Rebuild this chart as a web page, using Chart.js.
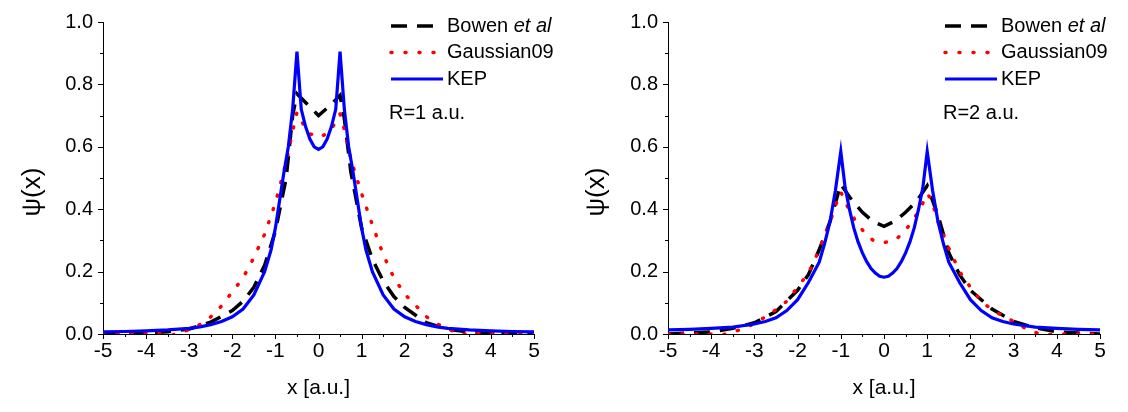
<!DOCTYPE html>
<html>
<head>
<meta charset="utf-8">
<script src="https://cdn.jsdelivr.net/npm/chart.js@4.4.0/dist/chart.umd.min.js"></script>
<style>
  html, body { margin: 0; padding: 0; background: #fff; }
  .panel { position: absolute; top: 0; width: 564px; height: 412px; }
  #left { left: 0; }
  #right { left: 564px; }
</style>
</head>
<body>
<div class="panel" id="left"><canvas id="chartR1"></canvas></div>
<div class="panel" id="right"><canvas id="chartR2"></canvas></div>
<script>
// --- R = 1 a.u. ---
const bowenX1 = [-5, -4.5, -4, -3.5, -3, -2.5, -2, -1.75, -1.5, -1.25, -1, -0.75, -0.6, -0.5, -0.25, 0, 0.25, 0.5, 0.6, 0.75, 1, 1.25, 1.5, 1.75, 2, 2.5, 3, 3.5, 4, 4.5, 5];
const bowenY1 = [0.0, 0.001, 0.003, 0.007, 0.016, 0.038, 0.075, 0.105, 0.15, 0.22, 0.33, 0.50, 0.70, 0.77, 0.735, 0.70, 0.73, 0.765, 0.69, 0.52, 0.34, 0.24, 0.17, 0.12, 0.085, 0.036, 0.015, 0.006, 0.002, 0.001, 0.0];

const gaussX1 = [-5, -4.5, -4, -3.75, -3.4, -3.25, -3, -2.75, -2.5, -2.25, -2, -1.75, -1.5, -1.25, -1, -0.75, -0.6, -0.5, -0.4, -0.25, 0, 0.25, 0.4, 0.5, 0.6, 0.75, 1, 1.25, 1.5, 1.75, 2, 2.25, 2.5, 2.75, 3, 3.3, 3.5, 4, 4.5, 5];
const gaussY1 = [0.0, 0.002, 0.004, 0.002, -0.004, 0.003, 0.014, 0.03, 0.055, 0.09, 0.135, 0.18, 0.245, 0.32, 0.42, 0.55, 0.65, 0.71, 0.685, 0.645, 0.63, 0.645, 0.68, 0.705, 0.655, 0.56, 0.45, 0.35, 0.255, 0.18, 0.128, 0.092, 0.056, 0.032, 0.018, -0.003, 0.003, 0.004, 0.002, 0.0];

const kepX1 = [-5, -4.5, -4, -3.5, -3, -2.75, -2.5, -2.25, -2, -1.75, -1.5, -1.25, -1.1, -1, -0.9, -0.8, -0.7, -0.6, -0.5, -0.4, -0.3, -0.2, -0.1, 0, 0.1, 0.2, 0.3, 0.4, 0.5, 0.6, 0.7, 0.8, 0.9, 1, 1.1, 1.25, 1.5, 1.75, 2, 2.25, 2.5, 2.75, 3, 3.5, 4, 4.5, 5];
const kepY1 = [0.007, 0.008, 0.010, 0.013, 0.018, 0.023, 0.030, 0.040, 0.055, 0.080, 0.125, 0.20, 0.27, 0.34, 0.43, 0.52, 0.60, 0.72, 0.905, 0.72, 0.665, 0.625, 0.60, 0.592, 0.60, 0.625, 0.665, 0.72, 0.905, 0.72, 0.60, 0.52, 0.43, 0.34, 0.27, 0.20, 0.125, 0.080, 0.055, 0.040, 0.030, 0.023, 0.018, 0.013, 0.010, 0.008, 0.007];

// --- R = 2 a.u. ---
const bowenX2 = [-5, -4.5, -4, -3.5, -3, -2.5, -2, -1.75, -1.5, -1.25, -1, -0.75, -0.5, -0.25, 0, 0.25, 0.5, 0.75, 1, 1.25, 1.5, 1.75, 2, 2.5, 3, 3.5, 4, 4.5, 5];
const bowenY2 = [0.0, 0.003, 0.007, 0.018, 0.036, 0.072, 0.14, 0.19, 0.27, 0.36, 0.48, 0.43, 0.39, 0.36, 0.345, 0.362, 0.39, 0.425, 0.475, 0.38, 0.26, 0.19, 0.14, 0.08, 0.04, 0.02, 0.007, 0.003, 0.0];

const gaussX2 = [-5, -4.5, -4, -3.75, -3.5, -3.25, -3, -2.75, -2.5, -2.25, -2, -1.75, -1.5, -1.25, -1.1, -1, -0.85, -0.65, -0.45, -0.25, 0, 0.25, 0.45, 0.65, 0.85, 1, 1.1, 1.25, 1.5, 1.75, 2, 2.25, 2.5, 2.75, 3, 3.25, 3.5, 3.75, 4, 4.5, 5];
const gaussY2 = [0.0, 0.0, 0.0, -0.003, 0.006, 0.018, 0.033, 0.055, 0.078, 0.105, 0.15, 0.195, 0.27, 0.36, 0.42, 0.455, 0.41, 0.36, 0.325, 0.30, 0.293, 0.30, 0.325, 0.36, 0.405, 0.45, 0.43, 0.36, 0.275, 0.20, 0.15, 0.105, 0.078, 0.058, 0.04, 0.02, 0.005, -0.003, 0.0, 0.0, 0.0];

const kepX2 = [-5, -4.5, -4, -3.5, -3, -2.75, -2.5, -2.25, -2, -1.75, -1.5, -1.375, -1.25, -1.125, -1, -0.9, -0.8, -0.7, -0.6, -0.5, -0.4, -0.3, -0.2, -0.1, 0, 0.1, 0.2, 0.3, 0.4, 0.5, 0.6, 0.7, 0.8, 0.9, 1, 1.125, 1.25, 1.375, 1.5, 1.75, 2, 2.25, 2.5, 2.75, 3, 3.5, 4, 4.5, 5];
const kepY2 = [0.013, 0.015, 0.018, 0.022, 0.032, 0.04, 0.052, 0.075, 0.11, 0.165, 0.23, 0.29, 0.36, 0.46, 0.585, 0.47, 0.40, 0.34, 0.295, 0.26, 0.232, 0.21, 0.195, 0.185, 0.182, 0.185, 0.195, 0.21, 0.232, 0.26, 0.295, 0.34, 0.40, 0.47, 0.585, 0.46, 0.36, 0.29, 0.23, 0.165, 0.11, 0.075, 0.052, 0.04, 0.032, 0.022, 0.018, 0.015, 0.013];

// axis ticks
const xTicks = [-5, -4, -3, -2, -1, 0, 1, 2, 3, 4, 5];
const yTicks = [0, 0.2, 0.4, 0.6, 0.8, 1.0];
const keyLabels = [["Bowen ", "et al"], ["Gaussian09", ""], ["KEP", ""]];
const yTitle = "ψ(x)";

const FONT = "'Liberation Sans', Arial, sans-serif";

function zip(xs, ys) {
  return xs.map((x, i) => ({ x, y: ys[i] }));
}

const tickMarks = {
  id: "tickMarks",
  afterDraw(chart) {
    const { ctx } = chart;
    const xs = chart.scales.x;
    const ys = chart.scales.y;
    ctx.save();
    ctx.strokeStyle = "#000";
    ctx.lineWidth = 1;
    ctx.beginPath();
    for (let i = 0; i < xTicks.length; i++) {
      const px = Math.round(xs.getPixelForValue(xTicks[i])) + 0.5;
      ctx.moveTo(px, xs.top);
      ctx.lineTo(px, xs.top + 5);
      if (i < xTicks.length - 1) {
        const mx = Math.round(xs.getPixelForValue((xTicks[i] + xTicks[i + 1]) / 2)) + 0.5;
        ctx.moveTo(mx, xs.top);
        ctx.lineTo(mx, xs.top + 3);
      }
    }
    for (let i = 0; i < yTicks.length; i++) {
      const py = Math.round(ys.getPixelForValue(yTicks[i])) + 0.5;
      ctx.moveTo(ys.right, py);
      ctx.lineTo(ys.right - 5, py);
      if (i < yTicks.length - 1) {
        const my = Math.round(ys.getPixelForValue((yTicks[i] + yTicks[i + 1]) / 2)) + 0.5;
        ctx.moveTo(ys.right, my);
        ctx.lineTo(ys.right - 3, my);
      }
    }
    ctx.stroke();

    // y axis title, a bit below the plot middle as in the original figure
    ctx.fillStyle = "#000";
    ctx.font = `26px ${FONT}`;
    ctx.textAlign = "center";
    ctx.textBaseline = "middle";
    ctx.translate(33, 192);
    ctx.rotate(-Math.PI / 2);
    ctx.fillText(yTitle, 0, 0);
    ctx.restore();
  }
};

const curveKey = {
  id: "curveKey",
  afterDatasetsDraw(chart, args, opts) {
    const { ctx } = chart;
    const sets = chart.data.datasets;
    ctx.save();
    ctx.textBaseline = "middle";
    ctx.fillStyle = "#000";
    keyLabels.forEach((parts, i) => {
      const ds = sets[i];
      const y = opts.top + i * opts.rowGap;
      ctx.strokeStyle = ds.borderColor;
      ctx.lineWidth = ds.borderWidth;
      ctx.lineCap = ds.borderCapStyle || "butt";
      ctx.setLineDash(ds.borderDash || []);
      ctx.beginPath();
      ctx.moveTo(opts.x, y);
      ctx.lineTo(opts.x + opts.lineLen, y);
      ctx.stroke();
      ctx.setLineDash([]);
      let tx = opts.x + opts.lineLen + 4;
      ctx.font = `20px ${FONT}`;
      ctx.fillText(parts[0], tx, y);
      tx += ctx.measureText(parts[0]).width;
      if (parts[1]) {
        ctx.font = `italic 20px ${FONT}`;
        ctx.fillText(parts[1], tx, y);
      }
    });
    ctx.font = `20px ${FONT}`;
    ctx.fillText(opts.note, opts.noteX, opts.noteY);
    ctx.restore();
  }
};

function makeChart(id, bowen, gauss, kep, padRight, yWidth, key) {
  return new Chart(document.getElementById(id), {
    type: "line",
    data: {
      datasets: [
        {
          label: "Bowen et al",
          data: bowen,
          borderColor: "#000000",
          borderWidth: 3.5,
          borderDash: [16, 10],
          pointRadius: 0,
          tension: 0,
          order: 3
        },
        {
          label: "Gaussian09",
          data: gauss,
          borderColor: "#ff0000",
          borderWidth: 3.5,
          borderDash: [1, 13],
          borderCapStyle: "round",
          pointRadius: 0,
          tension: 0,
          order: 2
        },
        {
          label: "KEP",
          data: kep,
          borderColor: "#0000ff",
          borderWidth: 3.2,
          pointRadius: 0,
          tension: 0,
          order: 1
        }
      ]
    },
    options: {
      responsive: true,
      maintainAspectRatio: false,
      animation: false,
      layout: { padding: { top: 20, right: padRight, bottom: 0, left: 0 } },
      plugins: {
        legend: { display: false },
        tooltip: { enabled: false },
        curveKey: key
      },
      scales: {
        x: {
          type: "linear",
          min: -5,
          max: 5,
          afterBuildTicks: (s) => { s.ticks = xTicks.map((v) => ({ value: v })); },
          afterFit: (s) => { s.height = 78; },
          grid: { drawOnChartArea: false, drawTicks: false },
          border: { color: "#000", width: 1 },
          ticks: {
            color: "#000",
            padding: 5,
            font: { family: FONT, size: 21 },
            callback: (v) => String(v)
          },
          title: {
            display: true,
            text: "x [a.u.]",
            color: "#000",
            font: { family: FONT, size: 21 },
            padding: { bottom: 11 }
          }
        },
        y: {
          min: 0,
          max: 1,
          afterBuildTicks: (s) => { s.ticks = yTicks.map((v) => ({ value: v })); },
          afterFit: (s) => { s.width = yWidth; },
          grid: { drawOnChartArea: false, drawTicks: false },
          border: { color: "#000", width: 1 },
          ticks: {
            color: "#000",
            padding: 10,
            font: { family: FONT, size: 20 },
            callback: (v) => v.toFixed(1)
          }
        }
      }
    },
    plugins: [tickMarks, curveKey]
  });
}

makeChart("chartR1", zip(bowenX1, bowenY1), zip(gaussX1, gaussY1), zip(kepX1, kepY1), 30, 103,
  { x: 391, lineLen: 52, top: 26, rowGap: 26.5, note: "R=1 a.u.", noteX: 389, noteY: 113 });
makeChart("chartR2", zip(bowenX2, bowenY2), zip(gaussX2, gaussY2), zip(kepX2, kepY2), 28, 104,
  { x: 381, lineLen: 52, top: 26, rowGap: 26.5, note: "R=2 a.u.", noteX: 379, noteY: 113 });
</script>
</body>
</html>
